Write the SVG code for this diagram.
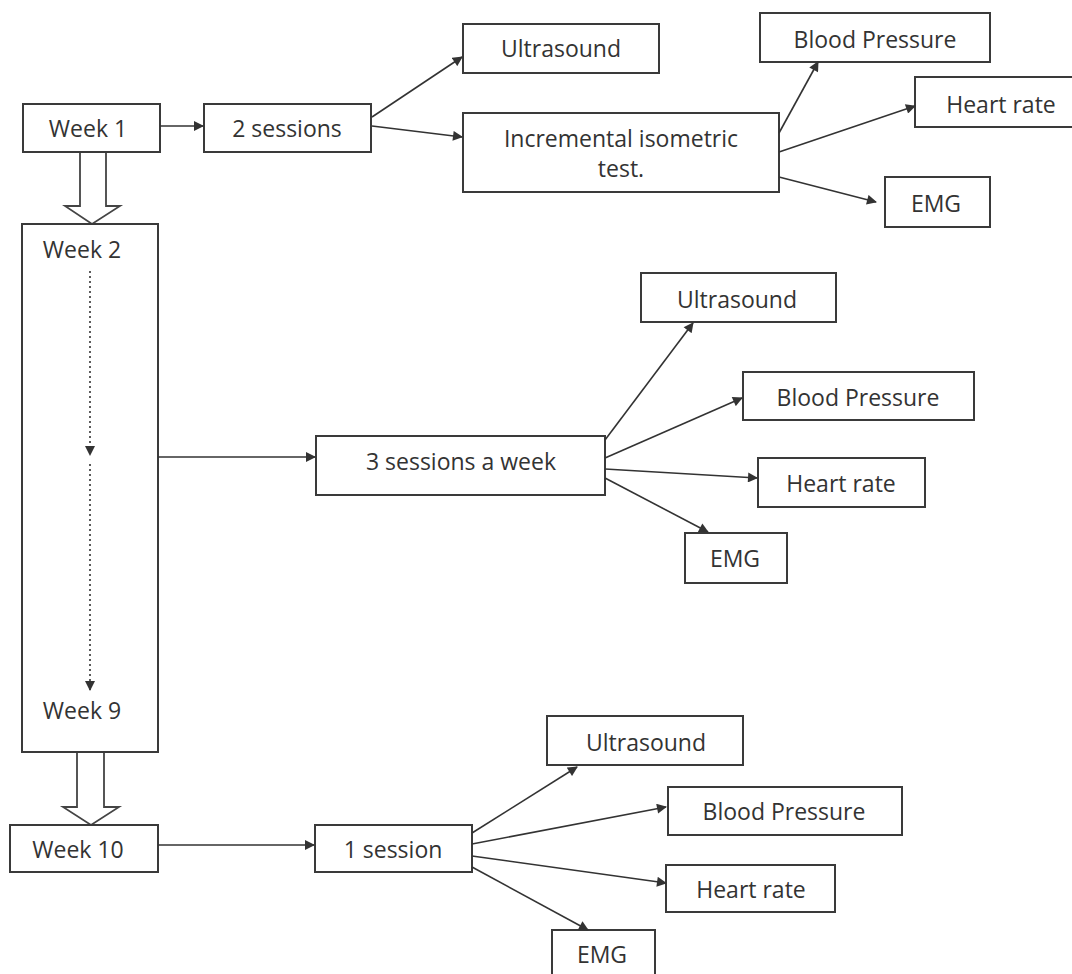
<svg xmlns="http://www.w3.org/2000/svg" width="1072" height="974" viewBox="0 0 1072 974">
  <style>
    .box { fill: #ffffff; stroke: #3a3a3a; stroke-width: 2; }
    .lbl { font-family: "Open Sans", "Liberation Sans", sans-serif; font-size: 23px; fill: #333333; text-anchor: middle; }
    .conn { stroke: #333333; stroke-width: 1.6; fill: none; marker-end: url(#head); }
    .dot { stroke: #333333; stroke-width: 1.6; fill: none; stroke-dasharray: 2 3; marker-end: url(#head); }
    .block { fill: #ffffff; stroke: #444444; stroke-width: 1.8; stroke-linejoin: miter; }
  </style>
  <defs>
    <marker id="head" viewBox="0 0 10 10" refX="9" refY="5" markerWidth="11" markerHeight="10" markerUnits="userSpaceOnUse" orient="auto">
      <path d="M0,0 L10,5 L0,10 z" fill="#333333"/>
    </marker>
  </defs>
  <rect width="1072" height="974" fill="#ffffff"/>

  <!-- hollow block arrows between week groups -->
  <g id="week-transitions">
    <polygon class="block" points="80,152 80,206 65,206 92,224 120,206 106,206 106,152"/>
    <polygon class="block" points="77,752 77,807 63,807 91,825 119,807 104,807 104,752"/>
  </g>

  <g id="week1"><rect class="box" x="23" y="104" width="137" height="48"/><text class="lbl" x="88" y="137">Week 1</text></g>
  <g id="sessions2"><rect class="box" x="204" y="104" width="167" height="48"/><text class="lbl" x="287" y="137">2 sessions</text></g>
  <g id="ultrasound1"><rect class="box" x="463" y="24" width="196" height="49"/><text class="lbl" x="561" y="57">Ultrasound</text></g>
  <g id="isometric"><rect class="box" x="463" y="113" width="316" height="79"/><text class="lbl" x="621" y="147">Incremental isometric</text><text class="lbl" x="621" y="177">test.</text></g>
  <g id="bp1"><rect class="box" x="760" y="13" width="230" height="49"/><text class="lbl" x="875" y="48">Blood Pressure</text></g>
  <g id="hr1"><rect class="box" x="915" y="77" width="170" height="50"/><text class="lbl" x="1001" y="113">Heart rate</text></g>
  <g id="emg1"><rect class="box" x="885" y="177" width="105" height="50"/><text class="lbl" x="936" y="212">EMG</text></g>

  <g id="weeks2to9"><rect class="box" x="22" y="224" width="136" height="528"/><text class="lbl" x="82" y="258">Week 2</text><text class="lbl" x="82" y="719">Week 9</text></g>
  <g id="sessions3"><rect class="box" x="316" y="436" width="289" height="59"/><text class="lbl" x="461" y="470">3 sessions a week</text></g>
  <g id="ultrasound2"><rect class="box" x="641" y="273" width="195" height="49"/><text class="lbl" x="737" y="308">Ultrasound</text></g>
  <g id="bp2"><rect class="box" x="743" y="372" width="231" height="48"/><text class="lbl" x="858" y="406">Blood Pressure</text></g>
  <g id="hr2"><rect class="box" x="758" y="458" width="167" height="49"/><text class="lbl" x="841" y="492">Heart rate</text></g>
  <g id="emg2"><rect class="box" x="685" y="533" width="102" height="50"/><text class="lbl" x="735" y="567">EMG</text></g>

  <g id="week10"><rect class="box" x="10" y="825" width="148" height="47"/><text class="lbl" x="78" y="858">Week 10</text></g>
  <g id="session1"><rect class="box" x="315" y="825" width="157" height="47"/><text class="lbl" x="393" y="858">1 session</text></g>
  <g id="ultrasound3"><rect class="box" x="547" y="716" width="196" height="49"/><text class="lbl" x="646" y="751">Ultrasound</text></g>
  <g id="bp3"><rect class="box" x="668" y="787" width="234" height="48"/><text class="lbl" x="784" y="820">Blood Pressure</text></g>
  <g id="hr3"><rect class="box" x="666" y="865" width="169" height="47"/><text class="lbl" x="751" y="898">Heart rate</text></g>
  <g id="emg3"><rect class="box" x="552" y="930" width="103" height="60"/><text class="lbl" x="602" y="963">EMG</text></g>

  <g id="connectors">
    <line class="conn" x1="160" y1="126" x2="203" y2="126"/>
    <line class="conn" x1="372" y1="117" x2="462" y2="57"/>
    <line class="conn" x1="372" y1="126" x2="462" y2="137"/>
    <line class="conn" x1="779" y1="133" x2="818" y2="62"/>
    <line class="conn" x1="779" y1="152" x2="915" y2="106"/>
    <line class="conn" x1="779" y1="177" x2="876" y2="202"/>

    <line class="dot" x1="90" y1="271" x2="90" y2="455"/>
    <line class="dot" x1="90" y1="464" x2="90" y2="690"/>

    <line class="conn" x1="158" y1="457" x2="315" y2="457"/>
    <line class="conn" x1="605" y1="440" x2="693" y2="323"/>
    <line class="conn" x1="605" y1="458" x2="742" y2="398"/>
    <line class="conn" x1="605" y1="469" x2="757" y2="478"/>
    <line class="conn" x1="605" y1="478" x2="708" y2="532"/>

    <line class="conn" x1="158" y1="845" x2="314" y2="845"/>
    <line class="conn" x1="472" y1="833" x2="577" y2="767"/>
    <line class="conn" x1="472" y1="844" x2="666" y2="807"/>
    <line class="conn" x1="472" y1="856" x2="666" y2="883"/>
    <line class="conn" x1="472" y1="867" x2="588" y2="930"/>
  </g>
</svg>
